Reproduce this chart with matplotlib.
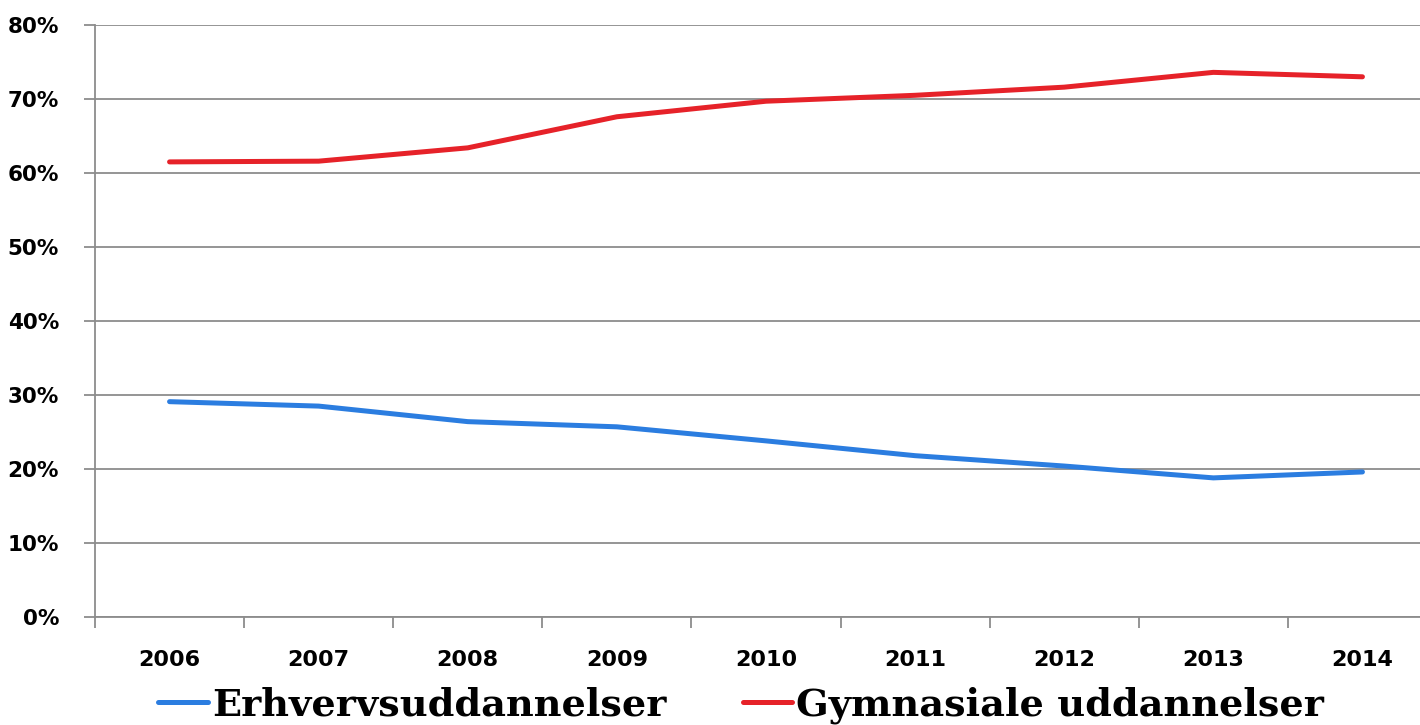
import numpy as np
import matplotlib
matplotlib.use("Agg")
import matplotlib.pyplot as plt

years = ["2006", "2007", "2008", "2009", "2010", "2011", "2012", "2013", "2014"]
erhverv = [29.1, 28.5, 26.4, 25.7, 23.8, 21.8, 20.4, 18.8, 19.6]
gymnasial = [61.5, 61.6, 63.4, 67.6, 69.7, 70.5, 71.6, 73.6, 73.0]
yticks = [0, 10, 20, 30, 40, 50, 60, 70, 80]

BLUE = "#2B7DE0"
RED = "#E62229"
GRID = "#8C8C8C"

fig = plt.figure(figsize=(14.2, 7.25), dpi=100)
ax = fig.add_axes([95 / 1420, 1 - 617 / 725, 1342 / 1420, (617 - 25) / 725])

x = np.arange(len(years))
ax.plot(x, erhverv, color=BLUE, lw=3.6, solid_capstyle="round",
        label="Erhvervsuddannelser")
ax.plot(x, gymnasial, color=RED, lw=3.6, solid_capstyle="round",
        label="Gymnasiale uddannelser")

ax.set_xlim(-0.5, len(years) - 0.5)
ax.set_ylim(0, 80)
ax.set_yticks(yticks)
ax.set_yticklabels([f"{v}%" for v in yticks], fontsize=15.5,
                   fontweight="bold", family="DejaVu Sans")
ax.yaxis.grid(True, color=GRID, lw=1.3)
ax.set_axisbelow(True)

# category labels centred, tick marks between categories
ax.set_xticks(np.arange(-0.5, len(years), 1.0))
ax.set_xticklabels([])
ax.set_xticks(x, minor=True)
ax.set_xticklabels(years, minor=True, fontsize=16, fontweight="bold",
                   family="DejaVu Sans")
ax.tick_params(axis="x", which="major", length=8, width=1.3, color=GRID,
               direction="out")
ax.tick_params(axis="x", which="minor", length=0, pad=24)
ax.tick_params(axis="y", length=8, width=1.3, color=GRID, pad=18)

for side in ["top", "right"]:
    ax.spines[side].set_visible(False)
for side in ["left", "bottom"]:
    ax.spines[side].set_color(GRID)
    ax.spines[side].set_linewidth(1.3)

fig.legend(loc="center", bbox_to_anchor=(0.522, 0.027), ncol=2, frameon=False,
           prop={"family": "DejaVu Serif", "weight": "bold", "size": 27.5},
           handlelength=1.3, handletextpad=0.1, columnspacing=2.0,
           borderaxespad=0, borderpad=0)

fig.savefig("out.png", dpi=100)
